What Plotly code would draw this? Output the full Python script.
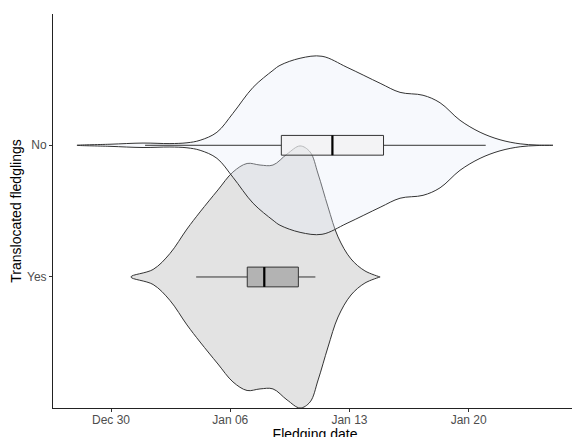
import plotly.graph_objects as go
import pandas as pd

# ---------------- data ----------------
groups = ["Yes", "No"]
group_pos = [1, 2]

# violin outlines: day offset from 2020-01-01 and half-width (category units)
yes_days = [-0.83, 0.47, 1.46, 2.46, 3.23, 4.28, 5.16, 5.99, 6.75, 7.51, 8.34,
            9.10, 9.69, 10.16, 10.74, 11.33, 12.09, 12.91, 13.80]
yes_half = [0, 0.057, 0.178, 0.364, 0.494, 0.661, 0.797, 0.862, 0.850, 0.850,
            0.934, 0.995, 0.949, 0.782, 0.532, 0.304, 0.137, 0.046, 0]

no_days = [-4.0, -2.06, -0.12, 1.46, 2.46, 3.23, 4.22, 5.16, 6.34, 7.51, 7.92,
           9.10, 10.39, 11.86, 13.80, 14.97, 16.32, 17.32, 18.49, 19.67, 20.84,
           22.02, 23.01, 23.95]
no_half = [0, 0.008, 0.017, 0.013, 0.019, 0.038, 0.099, 0.243, 0.440, 0.569,
           0.607, 0.661, 0.676, 0.592, 0.471, 0.402, 0.380, 0.323, 0.190,
           0.099, 0.042, 0.011, 0.002, 0]

# box statistics (dates)
yes_box = dict(lower="2020-01-04", q1="2020-01-07", median="2020-01-08",
               q3="2020-01-10", upper="2020-01-11")
no_box = dict(lower="2020-01-01", q1="2020-01-09", median="2020-01-12",
              q3="2020-01-15", upper="2020-01-21")

x_range_days = [-5.406, 25.36]
tick_start = "2019-12-30"

# ---------------- styling ----------------
FONT = "Liberation Sans, Arial, Helvetica, sans-serif"
OUTLINE = "#333333"
BOX_W = 0.15
base = pd.Timestamp("2020-01-01")


def to_dates(days):
    return [base + pd.to_timedelta(d, unit="D") for d in days]


def violin_xy(days, half, pos):
    xs = to_dates(days) + to_dates(days[::-1])
    ys = [pos + h for h in half] + [pos - h for h in half[::-1]]
    return xs, ys


fig = go.Figure()

violins = [
    (yes_days, yes_half, group_pos[0], "rgb(227,227,227)"),
    (no_days, no_half, group_pos[1], "rgba(232,238,248,0.33)"),
]
for days, half, pos, fill in violins:
    xs, ys = violin_xy(days, half, pos)
    fig.add_trace(go.Scatter(
        x=xs, y=ys, mode="lines", fill="toself", fillcolor=fill,
        line=dict(color=OUTLINE, width=1, shape="spline", smoothing=1.0),
        hoverinfo="skip", showlegend=False, xaxis="x", yaxis="y"))

boxes = [
    (yes_box, group_pos[0], "rgb(179,179,179)"),
    (no_box, group_pos[1], "rgba(239,239,239,0.57)"),
]
for st, pos, fill in boxes:
    fig.add_trace(go.Box(
        y=[pos], q1=[st["q1"]], median=[st["median"]], q3=[st["q3"]],
        lowerfence=[st["lower"]], upperfence=[st["upper"]],
        orientation="h", width=BOX_W, fillcolor=fill,
        line=dict(color=OUTLINE, width=1), whiskerwidth=0,
        boxpoints=False, hoverinfo="skip", showlegend=False,
        xaxis="x", yaxis="y2"))
    fig.add_trace(go.Scatter(
        x=[st["median"], st["median"]], y=[pos - BOX_W / 2, pos + BOX_W / 2],
        mode="lines", line=dict(color="black", width=2.2),
        hoverinfo="skip", showlegend=False, xaxis="x", yaxis="y2"))

y_range = [0.005, 2.997]
x_range = [base + pd.to_timedelta(x_range_days[0], unit="D"),
           base + pd.to_timedelta(x_range_days[1], unit="D")]

# page body has an 8px default margin, so the figure is sized to fit the view
fig.update_layout(
    width=572, height=434,
    margin=dict(l=45, r=3, t=6, b=34, pad=0),
    paper_bgcolor="white", plot_bgcolor="white",
    font=dict(family=FONT, color="#4d4d4d", size=12),
    showlegend=False,
    xaxis=dict(
        type="date", range=x_range, tick0=tick_start, dtick=7 * 86400000,
        tickformat="%b %d", showgrid=False, zeroline=False,
        showline=True, linecolor="#222222", linewidth=1,
        ticks="outside", ticklen=3, tickcolor="#333333", tickwidth=1,
        ticklabelstandoff=-2,
        tickfont=dict(size=12, color="#4d4d4d", family=FONT),
        title=dict(text="Fledging date", standoff=3,
                   font=dict(size=14, color="black", family=FONT)),
        automargin=False,
    ),
    yaxis=dict(
        range=y_range, tickvals=group_pos, ticktext=groups,
        showgrid=False, zeroline=False,
        showline=True, linecolor="#222222", linewidth=1,
        ticks="outside", ticklen=3, tickcolor="#333333", tickwidth=1,
        tickfont=dict(size=12, color="#4d4d4d", family=FONT),
        title=dict(text="Translocated fledglings", standoff=2,
                   font=dict(size=14, color="black", family=FONT)),
        automargin=False,
    ),
    yaxis2=dict(
        range=y_range, overlaying="y", visible=False, showgrid=False,
        zeroline=False, showticklabels=False,
    ),
)

fig.write_html("out.html")
